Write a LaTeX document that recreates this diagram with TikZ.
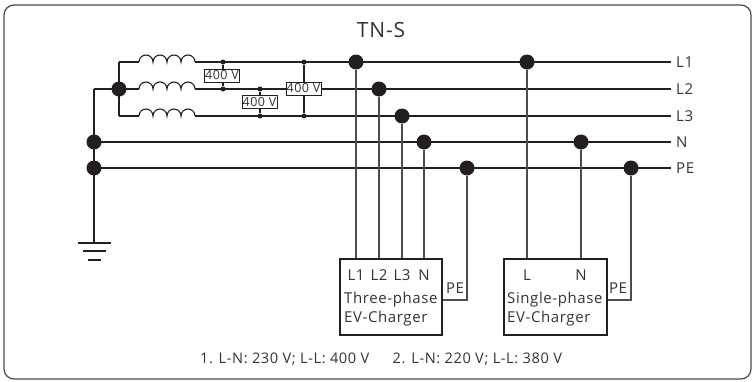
\documentclass[tikz,border=0pt]{standalone}
\usepackage{fontspec}
\setmainfont{Open Sans}[LetterSpace=4]
\usetikzlibrary{calc}
\definecolor{wirec}{HTML}{231F20}
\definecolor{textc}{HTML}{333333}
\definecolor{framec}{HTML}{4A4A4A}
\begin{document}
\begin{tikzpicture}[x=1pt,y=-1pt,
  wire/.style={draw=wirec, line width=1.1pt},
  feeder/.style={draw=wirec!80, line width=1.1pt},
  bigdot/.style={circle, fill=wirec, inner sep=0pt, minimum size=15pt},
  smalldot/.style={circle, fill=wirec, inner sep=0pt, minimum size=5pt},
  vlabel/.style={draw=wirec, fill=white, line width=0.7pt, inner sep=0pt,
    font=\fontsize{12.5}{13}\selectfont, text=textc, minimum width=35pt, minimum height=13pt},
  busname/.style={anchor=west, font=\fontsize{15}{17}\selectfont, text=textc, inner sep=0pt},
  charger/.style={draw=wirec, line width=1.1pt, rectangle, inner sep=0pt},
  ctext/.style={font=\fontsize{15}{17}\selectfont, text=textc, inner sep=0pt},
  coil/.style={draw=wirec, line width=1.1pt}
]
\useasboundingbox (0,0) rectangle (754,381);
% frame
\draw[draw=framec, line width=1.2pt, rounded corners=10pt] (4,5) rectangle (751,379);
\node[font=\fontsize{21}{23}\selectfont, text=textc] (title) at (381,30) {TN-S};

% named points
\coordinate (s1) at (119,62);
\coordinate (s3) at (119,116);
\coordinate (g2) at (94,89);
\coordinate (gnd) at (94,243);
\coordinate (i1a) at (139,62);  \coordinate (i1b) at (195,62);
\coordinate (i2a) at (139,89);  \coordinate (i2b) at (195,89);
\coordinate (i3a) at (139,116); \coordinate (i3b) at (195,116);
\node[busname] (lL1) at (676,62) {L1};
\node[busname] (lL2) at (676,89) {L2};
\node[busname] (lL3) at (676,116) {L3};
\node[busname] (lN) at (676,142) {N};
\node[busname] (lPE) at (676,168) {PE};
\coordinate (eL1) at (671,62);
\coordinate (eL2) at (671,89);
\coordinate (eL3) at (671,116);
\coordinate (eN) at (671,142);
\coordinate (ePE) at (671,168);

% chargers
\node[charger, minimum width=102pt, minimum height=76pt] (tp) at (391,297) {};
\node[charger, minimum width=103pt, minimum height=76pt] (sp) at (555.5,297) {};

% wiring on the left
\draw[wire] (s1) -- (s3);
\draw[wire] (g2) -- (gnd);
\draw[wire] (s1) -- (i1a) (i1b) -- (eL1);
\draw[wire] (g2) -- (i2a) (i2b) -- (eL2);
\draw[wire] (s3) -- (i3a) (i3b) -- (eL3);
\draw[wire] (94,142) -- (eN);
\draw[wire] (94,168) -- (ePE);
\foreach \c in {i1a,i2a,i3a}{
  \draw[coil] (\c) arc[start angle=180,end angle=360,radius=7]
    arc[start angle=180,end angle=360,radius=7]
    arc[start angle=180,end angle=360,radius=7]
    arc[start angle=180,end angle=360,radius=7];
}
% ground symbol
\draw[wire] ($(gnd)+(-16,0)$) -- ($(gnd)+(17,0)$);
\draw[wire] ($(gnd)+(-11,8)$) -- ($(gnd)+(12,8)$);
\draw[wire] ($(gnd)+(-6,17)$) -- ($(gnd)+(7,17)$);

% dots on the left
\node[bigdot] (star) at (119,89) {};
\node[bigdot] (nN) at (94,142) {};
\node[bigdot] (nPE) at (94,168) {};

% voltage meters
\node[smalldot] (p1a) at (223,62) {};
\node[smalldot] (p1b) at (223,89) {};
\node[smalldot] (p2a) at (260,89) {};
\node[smalldot] (p2b) at (260,116) {};
\node[smalldot] (p3a) at (304,62) {};
\node[smalldot] (p3b) at (304,116) {};
\draw[wire] (p1a) -- (p1b);
\draw[wire] (p2a) -- (p2b);
\draw[wire] (p3a) -- (p3b);
\node[vlabel] (v1) at (222,75.5) {400 V};
\node[vlabel] (v2) at (259.5,102) {400 V};
\node[vlabel] (v3) at (303.5,88.5) {400 V};

% taps for the three-phase charger
\node[bigdot] (c1) at (356,62) {};
\node[bigdot] (c2) at (379,89) {};
\node[bigdot] (c3) at (402,116) {};
\node[bigdot] (c4) at (424,142) {};
\node[bigdot] (c5) at (467,168) {};
% taps for the single-phase charger
\node[bigdot] (c6) at (527,62) {};
\node[bigdot] (c7) at (581,142) {};
\node[bigdot] (c8) at (631,168) {};

\draw[feeder] (c1) -- (c1 |- tp.north);
\draw[feeder] (c2) -- (c2 |- tp.north);
\draw[feeder] (c3) -- (c3 |- tp.north);
\draw[feeder] (c4) -- (c4 |- tp.north);
\draw[feeder] (c5) |- ($(tp.east)+(0,3)$);
\draw[feeder] (c6) -- (c6 |- sp.north);
\draw[feeder] (c7) -- (c7 |- sp.north);
\draw[feeder] (c8) |- ($(sp.east)+(0,3)$);

% charger texts
\node[ctext] (t1) at (356,275) {L1};
\node[ctext] (t2) at (379,275) {L2};
\node[ctext] (t3) at (402,275) {L3};
\node[ctext] (t4) at (424,275) {N};
\node[ctext, anchor=west] (t5) at (344,300) {Three-phase};
\node[ctext, anchor=west] (t6) at (344,319) {EV-Charger};
\node[ctext] (pe1) at (455,288) {PE};
\node[ctext] (t7) at (527,275) {L};
\node[ctext] (t8) at (581,275) {N};
\node[ctext, anchor=west] (t9) at (507,300) {Single-phase};
\node[ctext, anchor=west] (t10) at (507,319) {EV-Charger};
\node[ctext] (pe2) at (618,288) {PE};

\node[font=\fontsize{14.6}{17}\selectfont, text=textc] (note) at (381,359)
  {1. L-N: 230 V; L-L: 400 V\hspace{1.6em}2. L-N: 220 V; L-L: 380 V};
\end{tikzpicture}
\end{document}
